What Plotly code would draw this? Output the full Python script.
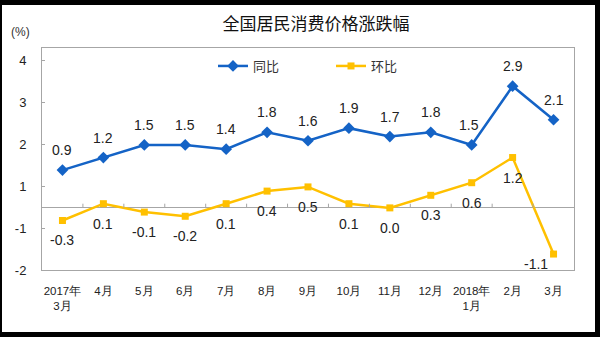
import plotly.graph_objects as go

categories = ["2017年<br>3月", "4月", "5月", "6月", "7月", "8月", "9月", "10月",
              "11月", "12月", "2018年<br>1月", "2月", "3月"]
yoy = [0.9, 1.2, 1.5, 1.5, 1.4, 1.8, 1.6, 1.9, 1.7, 1.8, 1.5, 2.9, 2.1]
mom = [-0.3, 0.1, -0.1, -0.2, 0.1, 0.4, 0.5, 0.1, 0.0, 0.3, 0.6, 1.2, -1.1]
y_tick_text = ["-2", "-1", "1", "2", "3", "4"]

BLUE = "#1463C6"
YELLOW = "#FFC000"
GRID = "#A6A6A6"
FONT = "Arial, Liberation Sans, sans-serif"
CJK = "Noto Sans CJK SC, sans-serif"

y_min, y_max = -1.48, 3.81

fig = go.Figure()
fig.add_trace(go.Scatter(
    x=categories, y=yoy, name="同比", mode="lines+markers",
    line=dict(color=BLUE, width=2.5),
    marker=dict(symbol="diamond", size=9, color=BLUE),
))
fig.add_trace(go.Scatter(
    x=categories, y=mom, name="环比", mode="lines+markers",
    line=dict(color=YELLOW, width=2.5),
    marker=dict(symbol="square", size=7, color=YELLOW),
))

annotations = []
n = len(categories)
for i, (c, v) in enumerate(zip(categories, yoy)):
    xs = -3 if i == 10 else 0
    annotations.append(dict(x=c, y=v, text=f"{v:.1f}", showarrow=False,
                            yshift=20, xshift=xs,
                            font=dict(family=FONT, size=14, color="#222")))
for i, (c, v) in enumerate(zip(categories, mom)):
    if i == n - 1:
        xs, ys = -18, -10
    else:
        xs, ys = 0, -20
    annotations.append(dict(x=c, y=v, text=f"{v:.1f}", showarrow=False,
                            yshift=ys, xshift=xs,
                            font=dict(family=FONT, size=14, color="#222")))

annotations.append(dict(xref="paper", yref="paper", x=-0.04, y=1.07,
                        xanchor="center", yanchor="middle", text="(%)",
                        showarrow=False,
                        font=dict(family=FONT, size=12, color="#333")))

shapes = [
    dict(type="rect", xref="paper", yref="paper",
         x0=(2 - 42) / 532, x1=(595 - 42) / 532,
         y0=(270 - 332) / 222, y1=(270 - 5) / 222,
         fillcolor="white", line=dict(width=0), layer="below"),
]
# small tick marks on the zero line at category boundaries
for i in range(1, n):
    shapes.append(dict(type="line", xref="x", yref="y",
                       x0=i - 0.5, x1=i - 0.5, y0=0, y1=0.1,
                       line=dict(color=GRID, width=1)))

fig.update_layout(
    width=600, height=337,
    margin=dict(l=42, r=26, t=48, b=67),
    paper_bgcolor="black",
    plot_bgcolor="white",
    title=dict(text="全国居民消费价格涨跌幅", x=(316 - 42) / 532, xref="paper",
               xanchor="center", y=1 - 24 / 337, yanchor="middle",
               font=dict(family=CJK, size=17, color="#111")),
    showlegend=True,
    legend=dict(orientation="h", x=(213 - 42) / 532, xanchor="left",
                y=(270 - 66) / 222, yanchor="middle",
                bgcolor="rgba(0,0,0,0)", entrywidth=73,
                font=dict(family=CJK, size=13, color="#333")),
    annotations=annotations,
    shapes=shapes,
    xaxis=dict(
        type="category", range=[-0.5, n - 0.5],
        showline=True, mirror=True, linecolor=GRID, linewidth=1,
        showgrid=False, ticks="", ticklabelstandoff=10,
        tickfont=dict(family=FONT, size=11.5, color="#222"),
    ),
    yaxis=dict(
        range=[y_min, y_max],
        tickvals=[y_min + k for k in range(len(y_tick_text))],
        ticktext=y_tick_text,
        showline=True, mirror=True, linecolor=GRID, linewidth=1,
        showgrid=False, ticks="inside", ticklen=3, tickcolor=GRID,
        zeroline=True, zerolinecolor=GRID, zerolinewidth=1,
        ticklabelstandoff=12,
        tickfont=dict(family=FONT, size=13, color="#222"),
    ),
)

fig.write_html("out.html")
